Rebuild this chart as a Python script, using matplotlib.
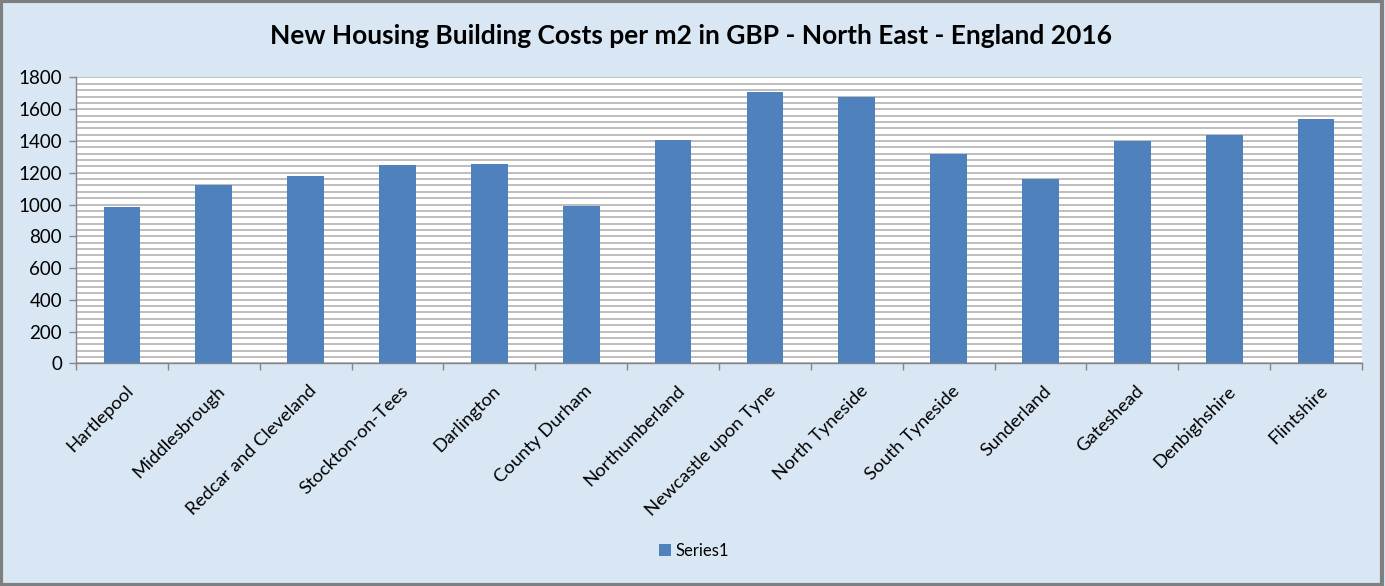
"""New housing building costs per m2, North East England 2016 - Excel-style bar chart."""
import matplotlib
matplotlib.use("Agg")
import matplotlib.pyplot as plt
from matplotlib.patches import Rectangle
from matplotlib.ticker import MultipleLocator
from matplotlib.transforms import ScaledTranslation

areas = [
    "Hartlepool", "Middlesbrough", "Redcar and Cleveland", "Stockton-on-Tees",
    "Darlington", "County Durham", "Northumberland", "Newcastle upon Tyne",
    "North Tyneside", "South Tyneside", "Sunderland", "Gateshead",
    "Denbighshire", "Flintshire",
]
cost_per_m2 = [985, 1120, 1180, 1250, 1257, 990, 1408, 1710,
               1675, 1318, 1160, 1400, 1438, 1540]
y_ticks = list(range(0, 1801, 200))

plt.rcParams["font.family"] = ["Lato", "DejaVu Sans"]

bg = "#d9e7f5"
bar_col = "#4f81bd"
grid_col = "#b3b3b3"
axis_col = "#868686"

fig = plt.figure(figsize=(13.85, 5.86), dpi=100, facecolor=bg)
ax = fig.add_axes([76 / 1385, 1 - 363.3 / 586, (1362 - 76) / 1385, (363.3 - 77.5) / 586])
ax.set_facecolor("white")

x = list(range(len(areas)))
ax.bar(x, cost_per_m2, width=0.4, color=bar_col, label="Series1", zorder=3)

ax.set_xlim(-0.5, len(areas) - 0.5)
ax.set_ylim(0, 1800)
ax.set_yticks(y_ticks)
ax.yaxis.set_minor_locator(MultipleLocator(40))
ax.grid(axis="y", which="both", color=grid_col, linewidth=1.2, zorder=0)
ax.tick_params(axis="y", which="minor", length=0)
ax.tick_params(axis="y", which="major", length=5, width=1, color=axis_col,
               labelsize=13.5, pad=5)

# category ticks sit between bars, labels sit under bar centres
ax.set_xticks([i - 0.5 for i in range(len(areas) + 1)])
ax.set_xticklabels([])
ax.set_xticks(x, minor=True)
ax.set_xticklabels(areas, minor=True, rotation=45, ha="right",
                   rotation_mode="anchor", fontsize=13.3)
ax.tick_params(axis="x", which="major", length=5, width=1, color=axis_col)
ax.tick_params(axis="x", which="minor", length=0, pad=14)
shift = ScaledTranslation(3 / 100, 0, fig.dpi_scale_trans)
for lbl in ax.get_xticklabels(minor=True):
    lbl.set_transform(lbl.get_transform() + shift)

for side in ("top", "right"):
    ax.spines[side].set_visible(False)
for side in ("left", "bottom"):
    ax.spines[side].set_color(axis_col)
    ax.spines[side].set_linewidth(1)

fig.text(691 / 1385, 1 - 36 / 586, "New Housing Building Costs per m2 in GBP - North East - England 2016",
         ha="center", va="center", fontsize=19, fontweight="bold")

fig.legend(loc="center", bbox_to_anchor=(694 / 1385, 1 - 551 / 586), frameon=False,
           fontsize=12, handlelength=0.75, handleheight=0.75, handletextpad=0.3)

fig.patches.append(Rectangle((0.001, 0.002), 0.997, 0.996, transform=fig.transFigure,
                             fill=False, edgecolor="#7f7f7f", linewidth=3))

fig.savefig("out.png", dpi=100, facecolor=bg)
